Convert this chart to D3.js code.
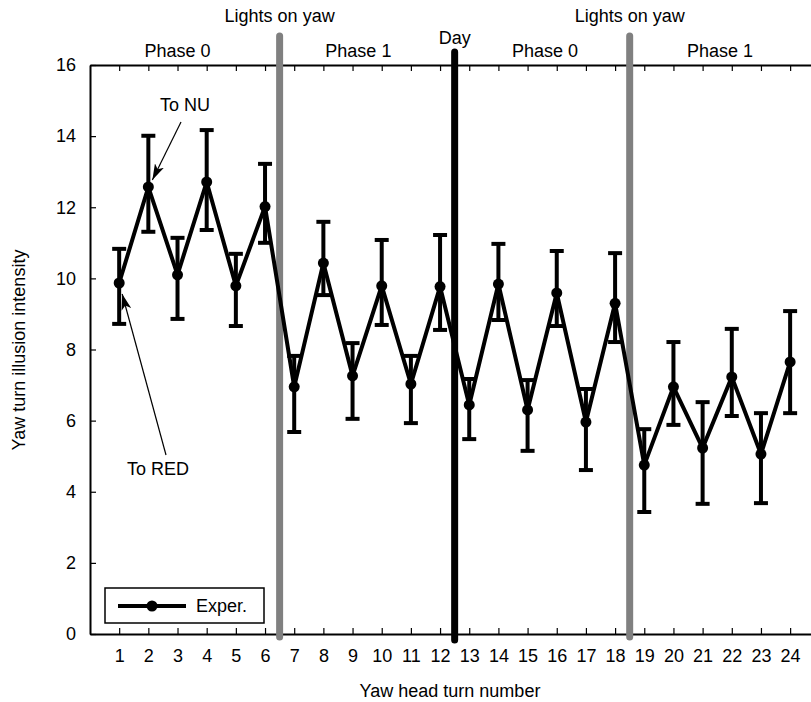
<!DOCTYPE html>
<html>
<head>
<meta charset="utf-8">
<script src="https://cdn.jsdelivr.net/npm/d3@7"></script>
<style>
  body { margin: 0; background: #fff; }
  svg text { font-family: "Liberation Sans", Arial, sans-serif; }
</style>
</head>
<body>
<div id="plot"></div>
<script>
var w = 811;
var h = 702;

// data
var turns = d3.range(1, 25);
var means = [9.87, 12.57, 10.1, 12.71, 9.79, 12.02,
             6.95, 10.43, 7.26, 9.79, 7.03, 9.77,
             6.44, 9.84, 6.3, 9.59, 5.96, 9.3,
             4.75, 6.95, 5.23, 7.23, 5.06, 7.65];
var upper = [10.83, 14.01, 11.14, 14.17, 10.69, 13.22,
             7.82, 11.59, 8.18, 11.08, 7.82, 11.22,
             7.17, 10.97, 7.14, 10.77, 6.89, 10.71,
             5.76, 8.21, 6.52, 8.58, 6.21, 9.08];
var lower = [8.72, 11.31, 8.86, 11.36, 8.66, 11.0,
             5.68, 9.53, 6.05, 8.69, 5.93, 8.55,
             5.48, 8.83, 5.15, 8.66, 4.61, 8.21,
             3.43, 5.88, 3.66, 6.13, 3.68, 6.21];
var yTicks = [0, 2, 4, 6, 8, 10, 12, 14, 16];

var lightsAt = [6.5, 18.5];
var dayAt = 12.5;
var phases = [
  { label: "Phase 0", at: 3.0 },
  { label: "Phase 1", at: 9.2 },
  { label: "Phase 0", at: 15.6 },
  { label: "Phase 1", at: 21.6 }
];

var fs = "18px";

var x = d3.scaleLinear().domain([0, 25]).range([90, 819.3]);
var y = d3.scaleLinear().domain([0, 16]).range([634, 65]);

var svg = d3.select("#plot").append("svg").attr("width", w).attr("height", h);

// frame: bottom, top, left
var xBottom = d3.axisBottom(x).tickValues(turns).tickSizeInner(-6).tickSizeOuter(0).tickPadding(15);
var xTop = d3.axisTop(x).tickValues(turns).tickSizeInner(-6).tickSizeOuter(0).tickFormat("");
var yLeft = d3.axisLeft(y).tickValues(yTicks).tickSizeInner(-6).tickSizeOuter(0).tickPadding(14);

var gx = svg.append("g").attr("transform", "translate(0," + y(0) + ")").call(xBottom);
var gt = svg.append("g").attr("transform", "translate(0," + y(16) + ")").call(xTop);
var gy = svg.append("g").attr("transform", "translate(" + x(0) + ",0)").call(yLeft);

[gx, gt, gy].forEach(function (g) {
  g.select(".domain").attr("stroke", "#000").attr("stroke-width", 2);
  g.selectAll(".tick line").attr("stroke", "#000").attr("stroke-width", 1.2);
  g.selectAll(".tick text").attr("font-size", fs).attr("fill", "#000")
    .style("font-family", "'Liberation Sans', Arial, sans-serif");
});

// axis titles
svg.append("text")
  .attr("x", 450).attr("y", 697)
  .attr("text-anchor", "middle").attr("font-size", fs)
  .text("Yaw head turn number");

svg.append("text")
  .attr("transform", "translate(25,350) rotate(-90)")
  .attr("text-anchor", "middle").attr("font-size", fs)
  .text("Yaw turn illusion intensity");

// event lines
svg.selectAll("line.lights")
  .data(lightsAt)
  .enter()
  .append("line")
  .attr("class", "lights")
  .attr("x1", (d) => x(d)).attr("x2", (d) => x(d))
  .attr("y1", 36).attr("y2", 637)
  .attr("stroke", "#808080").attr("stroke-width", 7)
  .attr("stroke-linecap", "round");

svg.append("line")
  .attr("x1", x(dayAt)).attr("x2", x(dayAt))
  .attr("y1", 52).attr("y2", 640)
  .attr("stroke", "#000").attr("stroke-width", 7)
  .attr("stroke-linecap", "round");

svg.selectAll("text.lights")
  .data(lightsAt)
  .enter()
  .append("text")
  .attr("class", "lights")
  .attr("x", (d) => x(d)).attr("y", 22)
  .attr("text-anchor", "middle").attr("font-size", fs)
  .text("Lights on yaw");

svg.append("text")
  .attr("x", x(dayAt)).attr("y", 44)
  .attr("text-anchor", "middle").attr("font-size", fs)
  .text("Day");

svg.selectAll("text.phase")
  .data(phases)
  .enter()
  .append("text")
  .attr("class", "phase")
  .attr("x", (d) => x(d.at)).attr("y", 57)
  .attr("text-anchor", "middle").attr("font-size", fs)
  .text((d) => d.label);

// error bars
var bars = svg.append("g");
turns.forEach(function (t, i) {
  bars.append("line")
    .attr("x1", x(t)).attr("x2", x(t))
    .attr("y1", y(lower[i])).attr("y2", y(upper[i]))
    .attr("stroke", "#000").attr("stroke-width", 4);
  [lower[i], upper[i]].forEach(function (v) {
    bars.append("line")
      .attr("x1", x(t) - 7).attr("x2", x(t) + 7)
      .attr("y1", y(v)).attr("y2", y(v))
      .attr("stroke", "#000").attr("stroke-width", 4);
  });
});

// series line
var line = d3.line().x((d, i) => x(turns[i])).y((d) => y(d));
svg.append("path")
  .datum(means)
  .attr("d", line)
  .attr("fill", "none")
  .attr("stroke", "#000")
  .attr("stroke-width", 4)
  .attr("stroke-linejoin", "miter");

svg.selectAll("circle.pt")
  .data(means)
  .enter()
  .append("circle")
  .attr("class", "pt")
  .attr("cx", (d, i) => x(turns[i]))
  .attr("cy", (d) => y(d))
  .attr("r", 5.5)
  .attr("fill", "#000");

// annotations with arrows
svg.append("defs").append("marker")
  .attr("id", "arrow")
  .attr("viewBox", "0 0 16 10")
  .attr("refX", 16).attr("refY", 5)
  .attr("markerWidth", 16).attr("markerHeight", 10)
  .attr("markerUnits", "userSpaceOnUse")
  .attr("orient", "auto")
  .append("path")
  .attr("d", "M0,0 L16,5 L0,10 L4,5 Z")
  .attr("fill", "#000");

svg.append("text")
  .attr("x", 185).attr("y", 111)
  .attr("text-anchor", "middle").attr("font-size", fs)
  .text("To NU");
svg.append("line")
  .attr("x1", 181).attr("y1", 122)
  .attr("x2", x(2) + 4).attr("y2", y(means[1]) - 7)
  .attr("stroke", "#000").attr("stroke-width", 1.2)
  .attr("marker-end", "url(#arrow)");

svg.append("text")
  .attr("x", 158).attr("y", 475)
  .attr("text-anchor", "middle").attr("font-size", fs)
  .text("To RED");
svg.append("line")
  .attr("x1", 166).attr("y1", 455)
  .attr("x2", x(1) + 3).attr("y2", y(means[0]) + 11)
  .attr("stroke", "#000").attr("stroke-width", 1.2)
  .attr("marker-end", "url(#arrow)");

// legend
var legend = svg.append("g").attr("transform", "translate(105,588)");
legend.append("rect")
  .attr("width", 159).attr("height", 35)
  .attr("fill", "#fff").attr("stroke", "#000").attr("stroke-width", 1.5);
legend.append("line")
  .attr("x1", 13).attr("x2", 81).attr("y1", 18).attr("y2", 18)
  .attr("stroke", "#000").attr("stroke-width", 4);
legend.append("circle")
  .attr("cx", 47).attr("cy", 18).attr("r", 5.5).attr("fill", "#000");
legend.append("text")
  .attr("x", 91).attr("y", 24).attr("font-size", fs)
  .text("Exper.");
</script>
</body>
</html>
